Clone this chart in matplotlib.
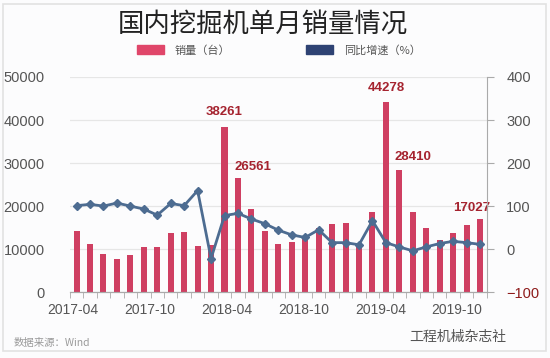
import numpy as np
import matplotlib
matplotlib.use('Agg')
from matplotlib import pyplot as plt
from matplotlib.patches import Patch, Rectangle

plt.rcParams['font.family'] = ['Liberation Sans', 'Noto Sans CJK SC', 'DejaVu Sans']

# monthly data 2017-04 .. 2019-10
sales = [14300, 11200, 8800, 7600, 8600, 10400, 10400, 13800, 14000, 10700,
         10900, 38261, 26561, 19300, 14200, 11100, 11560, 12400, 14800, 15800,
         16000, 11450, 18700, 44278, 28410, 18700, 15000, 12100, 13800, 15700,
         17027]
yoy = [101, 104, 100, 107, 100, 93, 79, 106, 101, 136,
       -22, 78, 83, 70, 59, 44, 33, 27, 45, 15,
       15, 10, 66, 15, 5, -4, 5, 13, 18, 15,
       11]
tick_labels = ['2017-04', '2017-10', '2018-04', '2018-10', '2019-04', '2019-10']
# labelled bars: index -> (dx, dy) offset in points
labelled = {11: (0, 11), 12: (11, 8), 23: (0, 10), 24: (10, 9), 30: (-6, 8)}

bar_c = '#cf3f62'
line_c = '#4d6c91'
lab_c = '#a5232f'
grey = '#555555'

fig = plt.figure(figsize=(5.5, 3.58), dpi=100, facecolor='#fcfcfd')
fig.patches.append(Rectangle((0.006, 0.02), 0.986, 0.968, transform=fig.transFigure,
                             fill=False, edgecolor='#e2e2e2', lw=1.2))

ax1 = fig.add_axes([0.127, 0.184, 0.758, 0.601])
ax1.set_facecolor('none')
ax2 = ax1.twinx()

x = np.arange(len(sales))
bars = ax1.bar(x, sales, width=0.45, color=bar_c, zorder=2)
ax2.plot(x, yoy, '-', color=line_c, lw=2.0, marker='D', markersize=4, zorder=3)

for i, (dx, dy) in labelled.items():
    ax1.annotate(str(sales[i]), (x[i], sales[i]), xytext=(dx, dy), textcoords='offset points',
                 ha='center', va='center', fontsize=9.5, fontweight='bold', color=lab_c)

ax1.set_xlim(-0.5, len(sales) - 0.5)
ax1.set_ylim(0, 50000)
ax2.set_ylim(-100, 400)
ax1.set_yticks(np.arange(0, 50001, 10000))
ax2.set_yticks(np.arange(-100, 401, 100))
ax1.yaxis.grid(True, color='#e6e6e6', lw=0.9, zorder=0)
ax1.set_axisbelow(True)

ax1.set_xticks(np.linspace(-0.28, 28.3, len(tick_labels)))
ax1.set_xticklabels(tick_labels)
ax1.set_xticks(np.arange(-0.5, len(sales), 1), minor=True)
ax1.tick_params(axis='x', which='major', length=0, pad=8, labelsize=10, labelcolor=grey)
ax1.tick_params(axis='x', which='minor', length=4, color='#aaaaaa', direction='out')
ax1.tick_params(axis='y', length=0, pad=18, labelsize=10.5, labelcolor=grey)
ax2.tick_params(axis='y', length=5, color='#aaaaaa', pad=9, labelsize=10.5, labelcolor=grey)
ax2.get_yticklabels()[0].set_color('#8e1b1b')

for ax in (ax1, ax2):
    for s in ['top', 'left']:
        ax.spines[s].set_visible(False)
    ax.spines['bottom'].set_color('#aaaaaa')
    ax.spines['right'].set_color('#aaaaaa')
ax1.spines['right'].set_visible(False)

fig.text(0.478, 0.933, '国内挖掘机单月销量情况', ha='center', va='center',
         fontsize=19, fontweight='light', color='#222222', family=['Noto Sans CJK SC'])

handles = [Patch(color='#e0466a'), Patch(color='#2e4273')]
fig.legend(handles, ['销量（台）', '同比增速（%）'], loc='center left',
           bbox_to_anchor=(0.249, 0.86), ncol=2, frameon=False,
           handlelength=2.4, handleheight=0.8, handletextpad=1.0,
           columnspacing=6.8, borderpad=0, borderaxespad=0, labelcolor=grey,
           prop={'family': ['Noto Sans CJK SC'], 'size': 8})

fig.text(0.024, 0.042, '数据来源：Wind', ha='left', va='center', fontsize=7.5,
         color='#9a9a9a', family=['Noto Sans CJK SC', 'DejaVu Sans'])
fig.text(0.92, 0.058, '工程机械杂志社', ha='right', va='center', fontsize=10,
         color='#555555', family=['Noto Sans CJK SC'])

fig.savefig('out.png', dpi=100, facecolor=fig.get_facecolor())
